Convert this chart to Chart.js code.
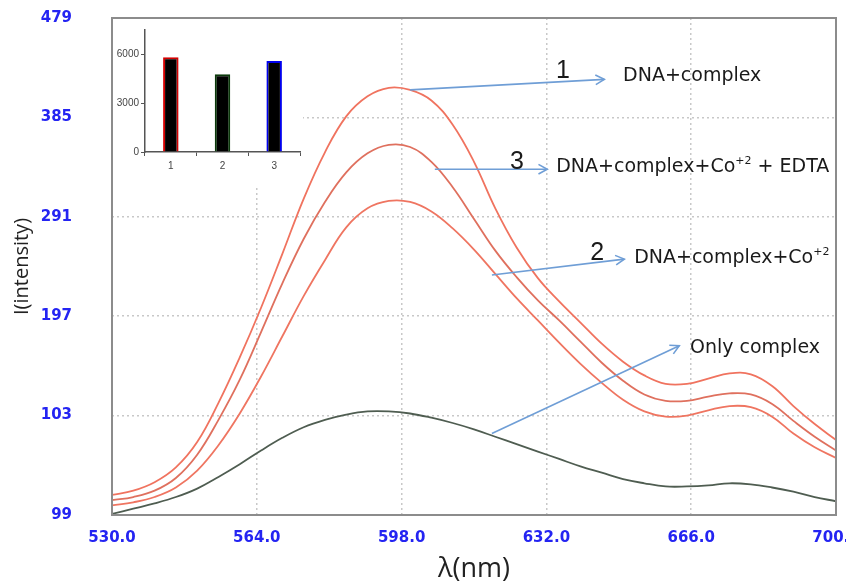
<!DOCTYPE html>
<html>
<head>
<meta charset="utf-8">
<script src="https://cdn.jsdelivr.net/npm/chart.js@4.4.1/dist/chart.umd.min.js"></script>
<style>
html,body{margin:0;padding:0;background:#fff;overflow:hidden;}
#wrap{position:relative;width:880px;height:583px;}
#inset{position:absolute;left:113px;top:19px;width:190px;height:166px;background:#fff;}
</style>
</head>
<body>
<div id="wrap">
    <canvas id="grafico"></canvas>
    <div id="inset"><canvas id="graficoInset"></canvas></div>
</div>
<script>
// espectros de emision (cada 5 nm)
const longitudes = [530,535,540,545,550,555,560,565,570,575,580,585,590,595,600,605,610,615,620,625,630,635,640,645,650,655,660,665,670,675,680,685,690,695,700];
const dnaComplejo = [28,32,40,54,78,115,158,205,256,308,352,386,405,413,411,401,378,343,299,262,233,211,191,171,154,141,133,133,138,143,142,131,112,95,80];
const dnaComplejoCo = [18,21,26,35,51,75,105,140,178,216,250,281,299,306,305,296,280,260,237,214,193,172,152,134,118,107,102,103,108,112,111,102,86,73,63];
const dnaComplejoCoEdta = [23,26,32,44,66,99,137,182,228,270,305,333,351,359,357,343,319,289,259,234,212,193,173,153,136,123,117,117,121,124,123,114,98,83,70];
const soloComplejo = [10,15,20,26,34,45,57,70,82,92,99,104,107,107,105,101,96,90,83,76,69,62,55,49,43,39,36,36,37,39,38,35,31,26,22];

const ticksX = [530,564,598,632,666,700];
const etiquetasX = ['530.0','564.0','598.0','632.0','666.0','700.0'];
const ticksY = [9,103,197,291,385,479];
const etiquetasY = ['99','103','197','291','385','479'];

// grafico de barras pequeño
const barrasCat = ['1','2','3'];
const barrasVal = [5830,4780,5590];
const barrasBorde = ['#d40000','#0b3a0b','#0000ee'];
const barrasTicks = [0,3000,6000];

// flechas y textos (en unidades de los ejes)
const flechas = [
    {desde:[600.0,411], hasta:[645.6,421]},
    {desde:[605.8,336], hasta:[632.2,336]},
    {desde:[619.2,236], hasta:[650.3,251]},
    {desde:[619.2,86], hasta:[663.2,169]}
];
const numeros = [
    {pos:[635.9,429], txt:'1'},
    {pos:[625.1,343], txt:'3'},
    {pos:[643.9,257], txt:'2'}
];
const rotulos = [
    {pos:[650.0,424], partes:[['DNA+complex',0]]},
    {pos:[634.3,338], partes:[['DNA+complex+Co',0],['+2',1],[' + EDTA',0]]},
    {pos:[652.6,252], partes:[['DNA+complex+Co',0],['+2',1]]},
    {pos:[665.7,167], partes:[['Only complex',0]]}
];

function serie(vals){
    return longitudes.map((x,i)=>({x:x, y:vals[i]}));
}

function flecha(ctx,x1,y1,x2,y2){
    ctx.beginPath();
    ctx.moveTo(x1,y1);
    ctx.lineTo(x2,y2);
    ctx.stroke();
    const a = Math.atan2(y2-y1,x2-x1), L = 10, w = 0.5;
    ctx.beginPath();
    ctx.moveTo(x2-L*Math.cos(a-w), y2-L*Math.sin(a-w));
    ctx.lineTo(x2,y2);
    ctx.lineTo(x2-L*Math.cos(a+w), y2-L*Math.sin(a+w));
    ctx.stroke();
}

const extras = {
    id:'extras',
    afterDatasetsDraw(chart){
        const ctx = chart.ctx, a = chart.chartArea;
        const sx = chart.scales.x, sy = chart.scales.y;
        ctx.save();
        // marco
        ctx.strokeStyle = '#8c8c8c';
        ctx.lineWidth = 2;
        ctx.strokeRect(a.left, a.top, a.right-a.left, a.bottom-a.top);
        // flechas
        ctx.strokeStyle = '#6f9ed6';
        ctx.lineWidth = 1.6;
        flechas.forEach(f=>{
            flecha(ctx, sx.getPixelForValue(f.desde[0]), sy.getPixelForValue(f.desde[1]),
                        sx.getPixelForValue(f.hasta[0]), sy.getPixelForValue(f.hasta[1]));
        });
        ctx.fillStyle = '#1a1a1a';
        ctx.textBaseline = 'middle';
        ctx.textAlign = 'center';
        ctx.font = '25px "Liberation Sans"';
        numeros.forEach(n=>{
            ctx.fillText(n.txt, sx.getPixelForValue(n.pos[0]), sy.getPixelForValue(n.pos[1]));
        });
        ctx.textAlign = 'left';
        rotulos.forEach(r=>{
            let x = sx.getPixelForValue(r.pos[0]);
            const y = sy.getPixelForValue(r.pos[1]);
            r.partes.forEach(p=>{
                ctx.font = p[1] ? '11px "DejaVu Sans"' : '19px "DejaVu Sans"';
                const yy = p[1] ? y-6 : y;
                ctx.fillText(p[0], x, yy);
                x += ctx.measureText(p[0]).width;
            });
        });
        ctx.restore();
    }
};

new Chart(document.getElementById('grafico').getContext('2d'), {
    type:'line',
    data:{
        datasets:[
            {data:serie(dnaComplejo), borderColor:'#f0735f'},
            {data:serie(dnaComplejoCoEdta), borderColor:'#df705e'},
            {data:serie(dnaComplejoCo), borderColor:'#ef7561'},
            {data:serie(soloComplejo), borderColor:'#4f5d51'}
        ]
    },
    options:{
        responsive:true,
        maintainAspectRatio:false,
        animation:false,
        elements:{
            line:{borderWidth:1.8, tension:0.4, fill:false},
            point:{radius:0}
        },
        layout:{padding:{top:18, right:44, left:0, bottom:0}},
        plugins:{legend:{display:false}, tooltip:{enabled:false}},
        scales:{
            x:{
                type:'linear', min:530, max:700,
                afterBuildTicks(s){ s.ticks = ticksX.map(v=>({value:v})); },
                afterFit(s){ s.height = 68; },
                ticks:{
                    callback:(v)=>etiquetasX[ticksX.indexOf(v)],
                    color:'#2424f2', padding:14, maxRotation:0, autoSkip:false,
                    font:{family:'DejaVu Sans', weight:'bold', size:15}
                },
                grid:{color:'#c8c8c8', lineWidth:1.5, drawTicks:false},
                border:{display:false, dash:[2,3]},
                title:{display:true, text:'λ(nm)', color:'#222', padding:0,
                    font:{family:'Open Sans', size:27, lineHeight:1}}
            },
            y:{
                min:9, max:479,
                afterBuildTicks(s){ s.ticks = ticksY.map(v=>({value:v})); },
                // la separacion de las etiquetas no debe empujar el area hacia abajo
                afterFit(s){ s.width = 112; s.paddingTop = 8; s.paddingBottom = 8; },
                ticks:{
                    callback:(v)=>etiquetasY[ticksY.indexOf(v)],
                    color:'#2424f2', padding:40,
                    font:{family:'DejaVu Sans', weight:'bold', size:15}
                },
                grid:{color:'#c8c8c8', lineWidth:1.5, drawTicks:false},
                border:{display:false, dash:[2,3]},
                title:{display:true, text:'I(intensity)', color:'#222', padding:{top:12, bottom:0},
                    font:{family:'Open Sans', size:20, lineHeight:1}}
            }
        }
    },
    plugins:[extras]
});

new Chart(document.getElementById('graficoInset').getContext('2d'), {
    type:'bar',
    data:{
        labels:barrasCat,
        datasets:[{data:barrasVal, backgroundColor:'#000', borderColor:barrasBorde, borderWidth:2,
            barPercentage:0.3, categoryPercentage:1}]
    },
    options:{
        responsive:true,
        maintainAspectRatio:false,
        animation:false,
        layout:{padding:{top:11, right:3, left:0, bottom:0}},
        plugins:{legend:{display:false}, tooltip:{enabled:false}},
        scales:{
            x:{
                afterFit(s){ s.height = 33; },
                grid:{drawOnChartArea:false, offset:true, tickLength:4, color:'#555'},
                border:{color:'#555', width:1.5},
                ticks:{color:'#444', padding:4, font:{family:'Liberation Sans', size:10}}
            },
            y:{
                min:0, max:7500,
                afterBuildTicks(s){ s.ticks = barrasTicks.map(v=>({value:v})); },
                afterFit(s){ s.width = 32; s.paddingTop = 0; },
                grid:{drawOnChartArea:false, tickLength:4, color:'#555'},
                border:{color:'#555', width:1.5},
                ticks:{callback:(v)=>String(v), color:'#444', padding:2,
                    font:{family:'Liberation Sans', size:10}}
            }
        }
    }
});
</script>
</body>
</html>
